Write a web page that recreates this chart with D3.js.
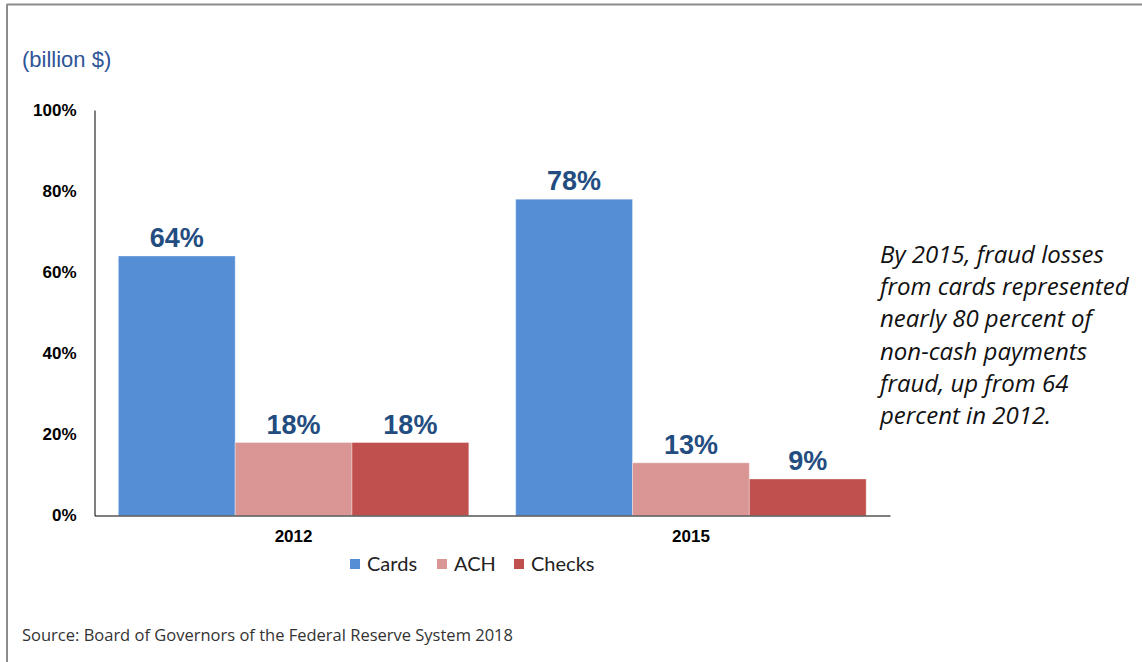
<!DOCTYPE html>
<html>
<head>
<meta charset="utf-8">
<script src="https://cdn.jsdelivr.net/npm/d3@7"></script>
<style>
  html, body { margin: 0; padding: 0; background: #fff; }
  svg { display: block; }
</style>
</head>
<body>
<svg id="chart" width="1142" height="662"></svg>
<script>
// Share of non-cash payments fraud losses by payment type
const years = ["2012", "2015"];
const seriesNames = ["Cards", "ACH", "Checks"];
const cardsShare = [64, 78];
const achShare = [18, 13];
const checksShare = [18, 9];
const seriesColors = ["#558ED5", "#D99694", "#C0504D"];
const yTicks = [0, 20, 40, 60, 80, 100];
const unitLabel = "(billion $)";
const noteLines = [
  "By 2015, fraud losses",
  "from cards represented",
  "nearly 80 percent of",
  "non-cash payments",
  "fraud, up from 64",
  "percent in 2012."
];
const sourceText = "Source: Board of Governors of the Federal Reserve System 2018";

const seriesValues = [cardsShare, achShare, checksShare];

const svg = d3.select("#chart");

// outer frame (top and left edges)
svg.append("line").attr("x1", 7).attr("x2", 1142).attr("y1", 4.5).attr("y2", 4.5)
  .attr("stroke", "#8c8c8c").attr("stroke-width", 2);
svg.append("line").attr("x1", 7).attr("x2", 7).attr("y1", 4).attr("y2", 662)
  .attr("stroke", "#8c8c8c").attr("stroke-width", 2);

const plot = { left: 94.5, right: 890, top: 110, bottom: 515.5 };

const x0 = d3.scaleBand().domain(years)
  .range([plot.left, plot.right])
  .paddingInner(0.118).paddingOuter(0.06);
const x1 = d3.scaleBand().domain(seriesNames).range([0, x0.bandwidth()]).padding(0);
const y = d3.scaleLinear().domain([0, 100]).range([plot.bottom, plot.top]);

// unit label
svg.append("text").attr("x", 22).attr("y", 67)
  .attr("font-family", "Liberation Sans, Arial, sans-serif")
  .attr("font-size", 22).attr("fill", "#2F5597")
  .text(unitLabel);

// bars
const groups = svg.append("g").selectAll("g").data(years).join("g")
  .attr("transform", d => `translate(${x0(d)},0)`);

groups.selectAll("rect")
  .data((yr, i) => seriesNames.map((s, k) => ({ s, k, v: seriesValues[k][i] })))
  .join("rect")
  .attr("x", d => x1(d.s))
  .attr("width", x1.bandwidth())
  .attr("y", d => y(d.v))
  .attr("height", d => y(0) - y(d.v))
  .attr("fill", d => seriesColors[d.k])
  .attr("stroke", "#ffffff").attr("stroke-opacity", 0.35).attr("stroke-width", 1);

groups.selectAll("text.val")
  .data((yr, i) => seriesNames.map((s, k) => ({ s, k, v: seriesValues[k][i] })))
  .join("text").attr("class", "val")
  .attr("x", d => x1(d.s) + x1.bandwidth() / 2)
  .attr("y", d => y(d.v) - 9)
  .attr("text-anchor", "middle")
  .attr("font-family", "Liberation Sans, Arial, sans-serif")
  .attr("font-weight", "bold").attr("font-size", 27)
  .attr("fill", "#234D80")
  .text(d => d.v + "%");

// y axis
const yAxis = d3.axisLeft(y).tickValues(yTicks).tickSize(0).tickPadding(18)
  .tickFormat(d => d + "%");
const gy = svg.append("g").attr("transform", `translate(${plot.left},0)`).call(yAxis);
gy.select(".domain").attr("stroke", "#000").attr("stroke-width", 1);
gy.selectAll("text")
  .attr("font-family", "Liberation Sans, Arial, sans-serif")
  .attr("font-weight", "bold").attr("font-size", 17).attr("fill", "#000");

// x axis
const xAxis = d3.axisBottom(x0).tickSize(0).tickPadding(14);
const gx = svg.append("g").attr("transform", `translate(0,${plot.bottom})`).call(xAxis);
gx.select(".domain").attr("stroke", "#000").attr("stroke-width", 1);
gx.selectAll("text")
  .attr("font-family", "Liberation Sans, Arial, sans-serif")
  .attr("font-weight", "bold").attr("font-size", 17).attr("fill", "#000");

// legend
const legendX = [350, 437, 514];
const legend = svg.append("g").selectAll("g").data(seriesNames).join("g")
  .attr("transform", (d, i) => `translate(${legendX[i]},0)`);
legend.append("rect").attr("x", 0).attr("y", 559).attr("width", 10).attr("height", 10)
  .attr("fill", (d, i) => seriesColors[i]);
legend.append("text").attr("x", 17).attr("y", 571)
  .attr("font-family", "Lato, sans-serif").attr("font-size", 20).attr("fill", "#222")
  .text(d => d);

// annotation
svg.append("text")
  .attr("font-family", "Open Sans, sans-serif").attr("font-style", "italic")
  .attr("font-size", 24).attr("fill", "#111")
  .selectAll("tspan").data(noteLines).join("tspan")
  .attr("x", 880).attr("y", (d, i) => 263 + i * 32.2)
  .text(d => d);

// source note
svg.append("text").attr("x", 22).attr("y", 641)
  .attr("font-family", "Open Sans, sans-serif").attr("font-size", 16.5).attr("fill", "#333")
  .text(sourceText);
</script>
</body>
</html>
